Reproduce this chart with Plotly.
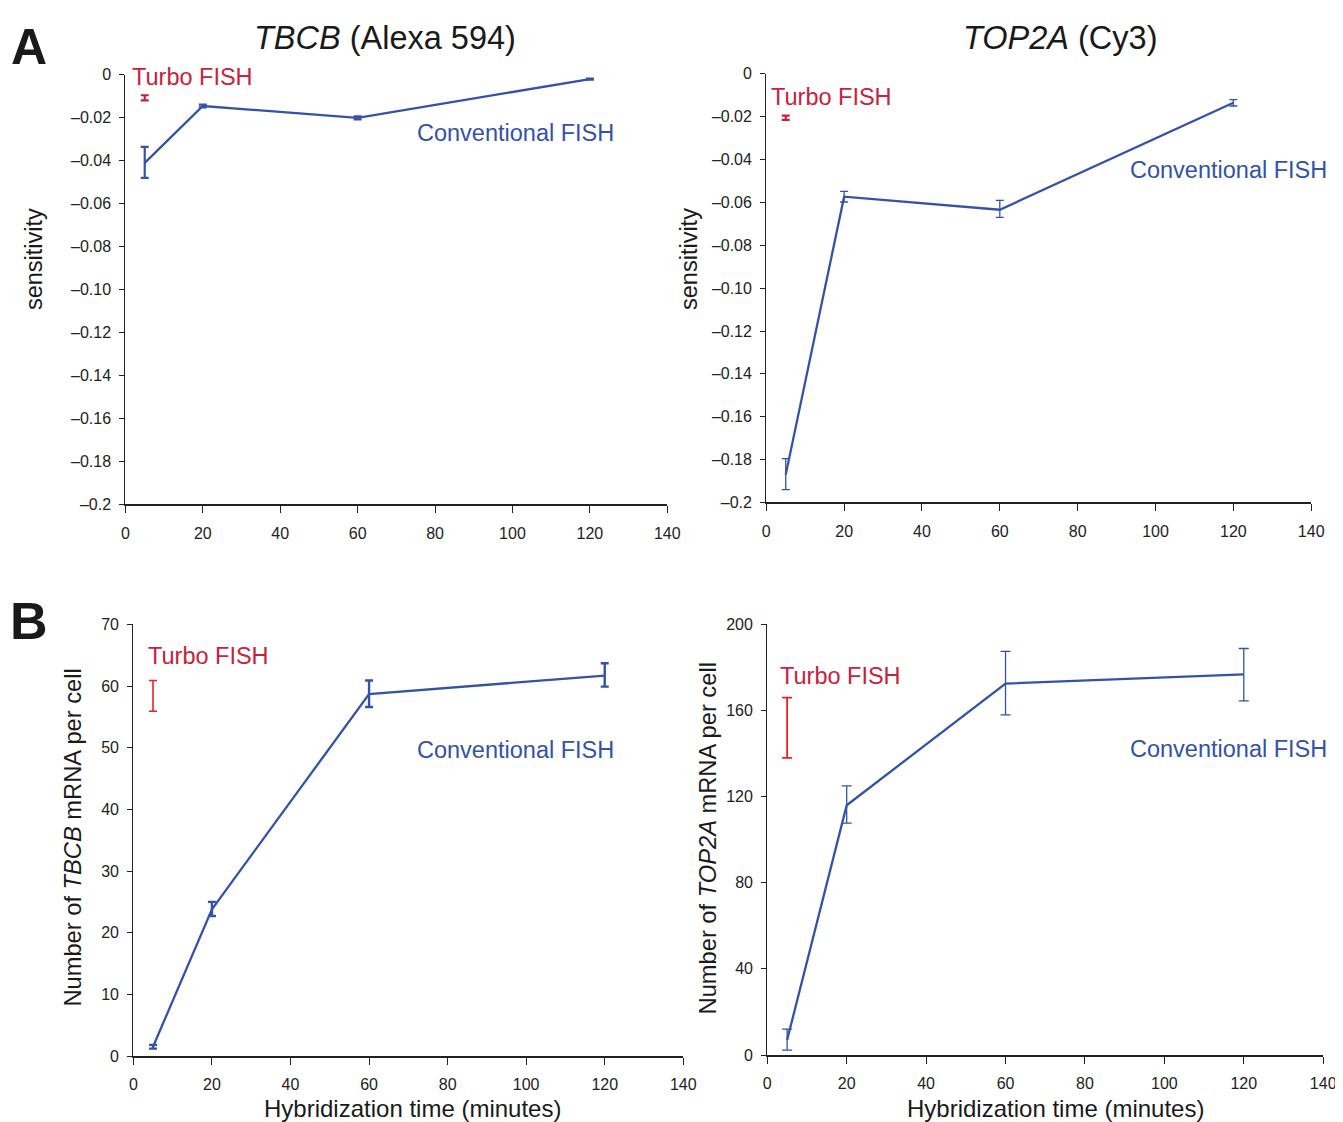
import plotly.graph_objects as go

W, H = 1343, 1122

# ---------------- data ----------------
time_conv = [5, 20, 60, 120]
time_turbo = [5]

# A: sensitivity
tbcb_sens = [-0.041, -0.0145, -0.020, -0.002]
tbcb_sens_err_plus = [0.0075, 0.0006, 0.0007, 0.0002]
tbcb_sens_err_minus = [0.007, 0.0006, 0.0007, 0.0002]
tbcb_sens_turbo = [-0.0107]
tbcb_sens_turbo_err = [0.0012]

top2a_sens = [-0.187, -0.0573, -0.0634, -0.0135]
top2a_sens_err_plus = [0.0075, 0.0025, 0.0044, 0.0015]
top2a_sens_err_minus = [0.007, 0.0025, 0.0036, 0.0015]
top2a_sens_turbo = [-0.0205]
top2a_sens_turbo_err = [0.0010]

# B: mRNA per cell
tbcb_count = [1.5, 23.8, 58.7, 61.7]
tbcb_count_err_plus = [0.3, 1.2, 2.2, 2.0]
tbcb_count_err_minus = [0.3, 1.1, 2.1, 1.8]
tbcb_count_turbo = [58.4]
tbcb_count_turbo_err = [2.5]

top2a_count = [7.0, 116.0, 172.5, 176.8]
top2a_count_err_plus = [5.0, 9.0, 15.0, 12.0]
top2a_count_err_minus = [4.7, 8.3, 14.5, 12.3]
top2a_count_turbo = [152.0]
top2a_count_turbo_err = [14.0]

x_ticks = [0, 20, 40, 60, 80, 100, 120, 140]
sens_ticks = [0, -0.02, -0.04, -0.06, -0.08, -0.10, -0.12, -0.14, -0.16, -0.18, -0.2]
sens_ticktext = ["0", "\u20130.02", "\u20130.04", "\u20130.06", "\u20130.08", "\u20130.10",
                 "\u20130.12", "\u20130.14", "\u20130.16", "\u20130.18", "\u20130.2"]
tbcb_count_ticks = [0, 10, 20, 30, 40, 50, 60, 70]
top2a_count_ticks = [0, 40, 80, 120, 160, 200]

BLUE = "#3352a8"
RED_TXT = "#c8223c"
RED_BAR_A = "#c8223c"
RED_BAR_B = "#e8202a"
FONT = "Liberation Sans, Arial, sans-serif"
AX = "#222222"

# empirical placement of the rendered figure inside the captured page
OX, OY, SX, SY = 11.6, 15.1, 0.9875, 0.9857

def px_x(p):
    return (p - OX) / (SX * W)

def px_y(p):
    return 1 - (p - OY) / (SY * H)

fig = go.Figure()

def conv_trace(xax, yax, y, ep, em, thick, capw):
    fig.add_trace(go.Scatter(
        x=time_conv, y=y, mode="lines", xaxis=xax, yaxis=yax,
        line=dict(color=BLUE, width=2.3),
        error_y=dict(type="data", symmetric=False, array=ep, arrayminus=em,
                     color=BLUE, thickness=thick, width=capw),
        cliponaxis=False, showlegend=False, hoverinfo="x+y"))

def turbo_trace(xax, yax, y, e, color, thick, capw):
    fig.add_trace(go.Scatter(
        x=time_turbo, y=y, mode="markers", xaxis=xax, yaxis=yax,
        marker=dict(size=1, color="rgba(0,0,0,0)"),
        error_y=dict(type="data", array=e, color=color, thickness=thick, width=capw),
        cliponaxis=False, showlegend=False, hoverinfo="x+y"))

conv_trace("x", "y", tbcb_sens, tbcb_sens_err_plus, tbcb_sens_err_minus, 2.2, 4)
turbo_trace("x", "y", tbcb_sens_turbo, tbcb_sens_turbo_err, RED_BAR_A, 2.2, 4)

conv_trace("x2", "y2", top2a_sens, top2a_sens_err_plus, top2a_sens_err_minus, 1.3, 4)
turbo_trace("x2", "y2", top2a_sens_turbo, top2a_sens_turbo_err, RED_BAR_A, 2.2, 4)

conv_trace("x3", "y3", tbcb_count, tbcb_count_err_plus, tbcb_count_err_minus, 2.4, 4)
turbo_trace("x3", "y3", tbcb_count_turbo, tbcb_count_turbo_err, RED_BAR_B, 1.6, 4)

conv_trace("x4", "y4", top2a_count, top2a_count_err_plus, top2a_count_err_minus, 1.3, 5)
turbo_trace("x4", "y4", top2a_count_turbo, top2a_count_turbo_err, RED_BAR_B, 1.8, 5)

tickfont = dict(family=FONT, size=16, color="#222222")

def xaxis(domain, anchor):
    return dict(domain=domain, anchor=anchor, range=[0, 140], tickvals=x_ticks,
                showgrid=False, zeroline=False, showline=True, linecolor=AX, linewidth=1.8,
                ticks="outside", ticklen=7, tickwidth=1.3, tickcolor=AX,
                ticklabelstandoff=6,
                tickfont=tickfont, fixedrange=True)

def yaxis(domain, anchor, rng, tv, tt=None):
    d = dict(domain=domain, anchor=anchor, range=rng, tickvals=tv,
             showgrid=False, zeroline=False, showline=True, linecolor=AX, linewidth=1.3,
             ticks="outside", ticklen=5, tickwidth=1.2, tickcolor=AX,
             ticklabelstandoff=5,
             tickfont=tickfont, fixedrange=True)
    if tt is not None:
        d["ticktext"] = tt
    return d

fig.update_layout(
    width=W, height=H, margin=dict(l=0, r=0, t=0, b=0),
    paper_bgcolor="white", plot_bgcolor="white",
    font=dict(family=FONT, color="#222222"),
    xaxis=xaxis([px_x(125), px_x(667)], "y"),
    yaxis=yaxis([px_y(504), px_y(74)], "x", [-0.2, 0], sens_ticks, sens_ticktext),
    xaxis2=xaxis([px_x(766), px_x(1311)], "y2"),
    yaxis2=yaxis([px_y(502), px_y(73)], "x2", [-0.2, 0], sens_ticks, sens_ticktext),
    xaxis3=xaxis([px_x(133), px_x(683)], "y3"),
    yaxis3=yaxis([px_y(1056), px_y(624)], "x3", [0, 70], tbcb_count_ticks),
    xaxis4=xaxis([px_x(767), px_x(1323)], "y4"),
    yaxis4=yaxis([px_y(1055), px_y(624)], "x4", [0, 200], top2a_count_ticks),
)

ann = []
def label(xref, yref, x, y, text, color, size=23.5):
    ann.append(dict(xref=xref, yref=yref, x=x, y=y, text=text, showarrow=False,
                    xanchor="left", yanchor="middle", xshift=-2,
                    font=dict(family=FONT, size=size, color=color)))

label("x", "y", 1.8, -0.0009, "Turbo FISH", RED_TXT)
label("x", "y", 75.4, -0.027, "Conventional FISH", BLUE)
label("x2", "y2", 1.3, -0.0107, "Turbo FISH", RED_TXT)
label("x2", "y2", 93.5, -0.0448, "Conventional FISH", BLUE)
label("x3", "y3", 3.6, 64.8, "Turbo FISH", RED_TXT)
label("x3", "y3", 72.3, 49.7, "Conventional FISH", BLUE)
label("x4", "y4", 3.3, 175.9, "Turbo FISH", RED_TXT)
label("x4", "y4", 91.4, 142, "Conventional FISH", BLUE)

def ptext(x, y, text, size, angle=0, bold=False, yanchor="middle"):
    ann.append(dict(xref="paper", yref="paper", x=x, y=y, text=text, showarrow=False,
                    xanchor="center", yanchor=yanchor, textangle=angle,
                    font=dict(family=FONT, size=size, color="#1a1a1a",
                              weight="bold" if bold else "normal")))

ptext(px_x(385), px_y(37), "<i>TBCB</i> (Alexa 594)", 32.5)
ptext(px_x(1060), px_y(37), "<i>TOP2A</i> (Cy3)", 32.5)
ptext(px_x(29), 0.999, "A", 50, bold=True, yanchor="top")
ptext(px_x(29), px_y(621), "B", 52, bold=True)
ptext(px_x(33), px_y(258), "sensitivity", 23.5, angle=-90)
ptext(px_x(688), px_y(258), "sensitivity", 23.5, angle=-90)
ptext(px_x(73), px_y(837), "Number of <i>TBCB</i> mRNA per cell", 23.7, angle=-90)
ptext(px_x(708), px_y(838), "Number of <i>TOP2A</i> mRNA per cell", 23.7, angle=-90)
ptext(px_x(412), px_y(1109), "Hybridization time (minutes)", 24)
ptext(px_x(1055), px_y(1109), "Hybridization time (minutes)", 24)

fig.update_layout(annotations=ann)
fig.write_html("out.html")
